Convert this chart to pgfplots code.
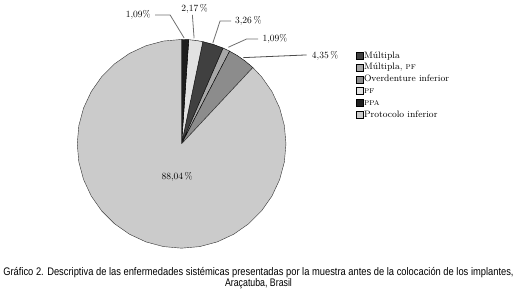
\documentclass[border=0pt]{standalone}
\usepackage{pgfplots}
\pgfplotsset{compat=1.18}
\usepackage{fontspec}
\usepackage{graphicx}
\newfontfamily\capfont{Liberation Sans}
\definecolor{cMul}{HTML}{404040}
\definecolor{cMulPF}{HTML}{A8A8A8}
\definecolor{cOver}{HTML}{8C8C8C}
\definecolor{cPF}{HTML}{E2E2E2}
\definecolor{cPPA}{HTML}{1E1E1E}
\definecolor{cProt}{HTML}{CBCBCB}
\definecolor{cLead}{HTML}{707070}
\begin{document}
\begin{tikzpicture}
\begin{axis}[
  scale only axis, width=517pt, height=308pt,
  xmin=-181.5, xmax=335.5, ymin=-164, ymax=144,
  hide axis, clip=false,
  legend cell align=left,
  legend style={at={(axis cs:174.5,94.3)}, anchor=north west, draw=none, fill=none,
    font=\fontsize{9.3}{10}\selectfont, inner sep=0pt, row sep=0pt,
    nodes={inner sep=0.5pt, text height=7.8pt, text depth=3pt}},
  legend image code/.code={\draw[#1,draw=black,line width=0.5pt] (0pt,-3.5pt) rectangle (7pt,3.5pt);},
]
\path (rel axis cs:0,0) rectangle (rel axis cs:1,1);
% slices (polar: angle, radius), clockwise from top
\addplot[data cs=polar, fill=cMul, draw=black, line width=0.4pt] coordinates {(0,0) (78.264,104.5) (72.396,104.5) (66.528,104.5) (0,0)};
\addlegendentry{Múltipla}
\addplot[data cs=polar, fill=cMulPF, draw=black, line width=0.4pt] coordinates {(0,0) (66.528,104.5) (62.604,104.5) (0,0)};
\addlegendentry{Múltipla, \textsc{pf}}
\addplot[data cs=polar, fill=cOver, draw=black, line width=0.4pt] coordinates {(0,0) (62.604,104.5) (57.604,104.5) (52.604,104.5) (46.944,104.5) (0,0)};
\addlegendentry{Overdenture inferior}
\addplot[data cs=polar, fill=cPF, draw=black, line width=0.4pt] coordinates {(0,0) (86.076,104.5) (82.17,104.5) (78.264,104.5) (0,0)};
\addlegendentry{\textsc{pf}}
\addplot[data cs=polar, fill=cPPA, draw=black, line width=0.4pt] coordinates {(0,0) (90,104.5) (86.076,104.5) (0,0)};
\addlegendentry{\textsc{ppa}}
\addplot[data cs=polar, fill=cProt, draw=black!80, line width=0.4pt] coordinates {(0,0) (46.944,104.5) (40,104.5) (30,104.5) (20,104.5) (10,104.5) (0,104.5) (-10,104.5) (-20,104.5) (-30,104.5) (-40,104.5) (-50,104.5) (-60,104.5) (-70,104.5) (-80,104.5) (-90,104.5) (-100,104.5) (-110,104.5) (-120,104.5) (-130,104.5) (-140,104.5) (-150,104.5) (-160,104.5) (-170,104.5) (-180,104.5) (-190,104.5) (-200,104.5) (-210,104.5) (-220,104.5) (-230,104.5) (-240,104.5) (-250,104.5) (-260,104.5) (-270,104.5) (0,0)};
\addlegendentry{Protocolo inferior}
% leader lines
\addplot[forget plot, cLead, line width=0.8pt] coordinates {(-26.5,129) (-11.5,129) (2.5,106)};
\addplot[forget plot, cLead, line width=0.8pt] coordinates {(10.8,129) (12.5,105.7)};
\addplot[forget plot, cLead, line width=0.8pt] coordinates {(49.5,123) (38.5,123) (31.2,100.7)};
\addplot[forget plot, cLead, line width=0.8pt] coordinates {(76.5,105) (65.2,105) (46.8,96.7)};
\addplot[forget plot, black!70, line width=0.8pt] coordinates {(125.2,89) (61.8,86.3)};
% labels
\begin{scope}[font=\fontsize{9.5}{10}\selectfont]
\node[anchor=east] at (axis cs:-27.5,129) {1,09\%};
\node at (axis cs:13,135) {2,17\,\%};
\node[anchor=west] at (axis cs:50,123) {3,26\,\%};
\node[anchor=west] at (axis cs:77.5,105) {1,09\%};
\node[anchor=west] at (axis cs:127,88) {4,35\,\%};
\node at (axis cs:-4.5,-33) {88,04\,\%};
\end{scope}
% caption
\node[anchor=base] at (axis cs:77,-132) {\resizebox{511pt}{\height}{\capfont\fontsize{11}{13}\selectfont Gráfico 2. Descriptiva de las enfermedades sistémicas presentadas por la muestra antes de la colocación de los implantes,}};
\node[anchor=base] at (axis cs:77,-143.3) {\resizebox{67pt}{\height}{\capfont\fontsize{11}{13}\selectfont Araçatuba, Brasil}};
\end{axis}
\end{tikzpicture}
\end{document}
